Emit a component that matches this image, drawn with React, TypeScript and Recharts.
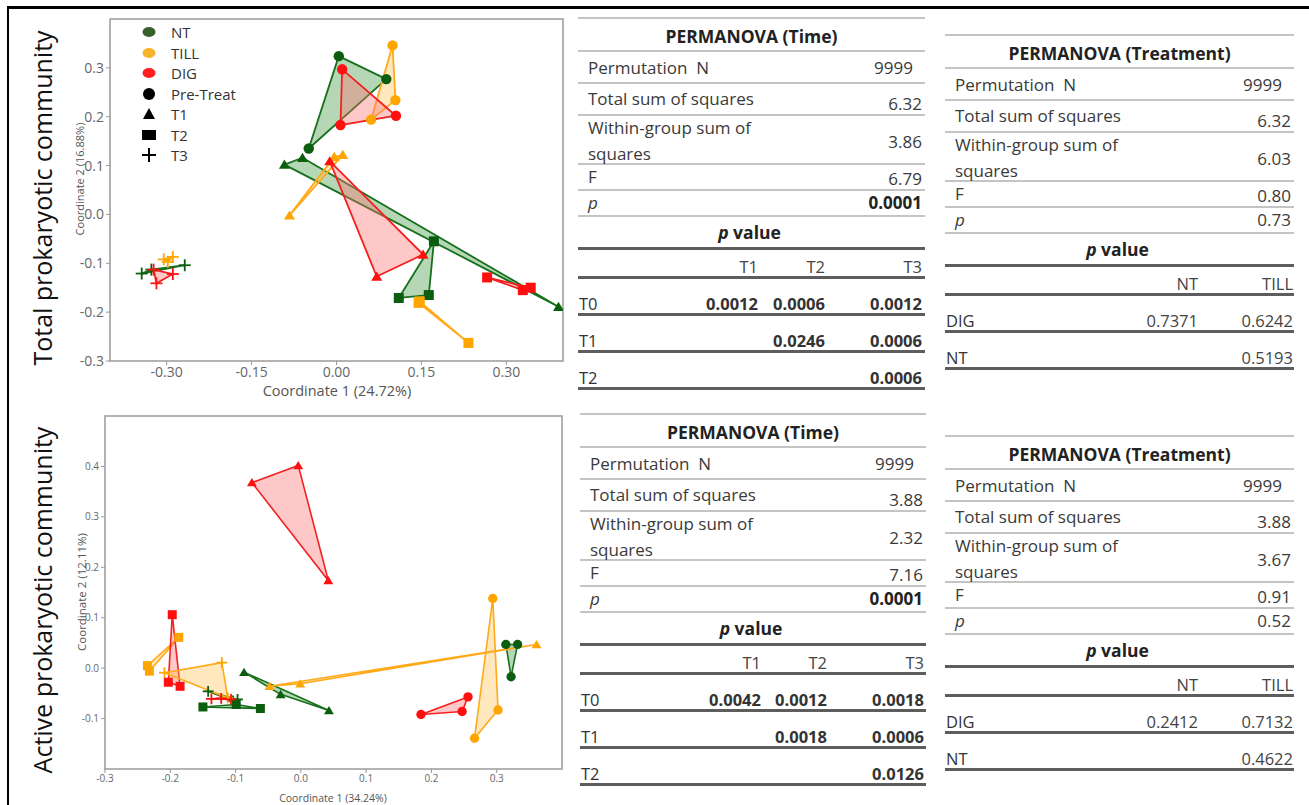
import React from 'react'
import { ScatterChart, Scatter, XAxis, YAxis, ReferenceArea } from 'recharts'

type Pt = { x: number; y: number }
type Treatment = 'NT' | 'TILL' | 'DIG'
type Time = 'pre' | 't1' | 't2' | 't3'

// PCoA scores, total prokaryotic community
const totalNtPre: Pt[] = [{ x: 0.004, y: 0.324 }, { x: 0.088, y: 0.277 }, { x: -0.049, y: 0.135 }]
const totalTillPre: Pt[] = [{ x: 0.099, y: 0.346 }, { x: 0.104, y: 0.234 }, { x: 0.061, y: 0.194 }]
const totalDigPre: Pt[] = [{ x: 0.010, y: 0.297 }, { x: 0.105, y: 0.202 }, { x: 0.007, y: 0.183 }]
const totalNtT1: Pt[] = [{ x: -0.092, y: 0.102 }, { x: -0.060, y: 0.116 }, { x: 0.392, y: -0.189 }]
const totalTillT1: Pt[] = [{ x: -0.004, y: 0.118 }, { x: 0.011, y: 0.122 }, { x: -0.083, y: -0.002 }]
const totalDigT1: Pt[] = [{ x: -0.012, y: 0.109 }, { x: 0.071, y: -0.127 }, { x: 0.153, y: -0.082 }]
const totalNtT2: Pt[] = [{ x: 0.172, y: -0.055 }, { x: 0.110, y: -0.171 }, { x: 0.163, y: -0.165 }]
const totalTillT2: Pt[] = [{ x: 0.145, y: -0.181 }, { x: 0.147, y: -0.178 }, { x: 0.233, y: -0.263 }]
const totalDigT2: Pt[] = [{ x: 0.266, y: -0.129 }, { x: 0.329, y: -0.155 }, { x: 0.343, y: -0.150 }]
const totalNtT3: Pt[] = [{ x: -0.344, y: -0.121 }, { x: -0.327, y: -0.113 }, { x: -0.268, y: -0.104 }]
const totalTillT3: Pt[] = [{ x: -0.305, y: -0.092 }, { x: -0.289, y: -0.087 }, { x: -0.298, y: -0.097 }]
const totalDigT3: Pt[] = [{ x: -0.318, y: -0.141 }, { x: -0.323, y: -0.113 }, { x: -0.289, y: -0.122 }]

// PCoA scores, active prokaryotic community
const activeNtPre: Pt[] = [{ x: 0.314, y: 0.047 }, { x: 0.332, y: 0.047 }, { x: 0.322, y: -0.017 }]
const activeTillPre: Pt[] = [{ x: 0.294, y: 0.138 }, { x: 0.302, y: -0.083 }, { x: 0.266, y: -0.139 }]
const activeDigPre: Pt[] = [{ x: 0.256, y: -0.057 }, { x: 0.247, y: -0.086 }, { x: 0.184, y: -0.092 }]
const activeNtT1: Pt[] = [{ x: -0.087, y: -0.008 }, { x: -0.031, y: -0.052 }, { x: 0.043, y: -0.084 }]
const activeTillT1: Pt[] = [{ x: 0.361, y: 0.047 }, { x: -0.001, y: -0.031 }, { x: -0.048, y: -0.036 }]
const activeDigT1: Pt[] = [{ x: -0.075, y: 0.368 }, { x: -0.004, y: 0.402 }, { x: 0.042, y: 0.174 }]
const activeNtT2: Pt[] = [{ x: -0.150, y: -0.077 }, { x: -0.099, y: -0.072 }, { x: -0.062, y: -0.080 }]
const activeTillT2: Pt[] = [{ x: -0.187, y: 0.061 }, { x: -0.235, y: 0.005 }, { x: -0.232, y: -0.006 }]
const activeDigT2: Pt[] = [{ x: -0.197, y: 0.106 }, { x: -0.203, y: -0.028 }, { x: -0.185, y: -0.036 }]
const activeNtT3: Pt[] = [{ x: -0.142, y: -0.046 }, { x: -0.104, y: -0.065 }, { x: -0.097, y: -0.062 }]
const activeTillT3: Pt[] = [{ x: -0.209, y: -0.009 }, { x: -0.121, y: 0.011 }, { x: -0.112, y: -0.059 }]
const activeDigT3: Pt[] = [{ x: -0.137, y: -0.061 }, { x: -0.122, y: -0.060 }, { x: -0.107, y: -0.062 }]

// axis ticks
const totalXTicks = [-0.3, -0.15, 0, 0.15, 0.3]
const totalYTicks = [-0.3, -0.2, -0.1, 0, 0.1, 0.2, 0.3]
const activeXTicks = [-0.3, -0.2, -0.1, 0, 0.1, 0.2, 0.3]
const activeYTicks = [-0.1, 0, 0.1, 0.2, 0.3, 0.4]

// PERMANOVA results: [permutations, total SS, within SS, F, p]
const totalTimeStats = ['9999', '6.32', '3.86', '6.79', '0.0001']
const totalTreatStats = ['9999', '6.32', '6.03', '0.80', '0.73']
const activeTimeStats = ['9999', '3.88', '2.32', '7.16', '0.0001']
const activeTreatStats = ['9999', '3.88', '3.67', '0.91', '0.52']

const timeCols = ['T1', 'T2', 'T3']
const treatCols = ['NT', 'TILL']

const totalTimePairs = [
  { label: 'T0', values: ['0.0012', '0.0006', '0.0012'] },
  { label: 'T1', values: ['', '0.0246', '0.0006'] },
  { label: 'T2', values: ['', '', '0.0006'] },
]
const totalTreatPairs = [
  { label: 'DIG', values: ['0.7371', '0.6242'] },
  { label: 'NT', values: ['', '0.5193'] },
]
const activeTimePairs = [
  { label: 'T0', values: ['0.0042', '0.0012', '0.0018'] },
  { label: 'T1', values: ['', '0.0018', '0.0006'] },
  { label: 'T2', values: ['', '', '0.0126'] },
]
const activeTreatPairs = [
  { label: 'DIG', values: ['0.2412', '0.7132'] },
  { label: 'NT', values: ['', '0.4622'] },
]

type Group = { treatment: Treatment; time: Time; points: Pt[] }

const totalGroups: Group[] = [
  { treatment: 'NT', time: 'pre', points: totalNtPre },
  { treatment: 'TILL', time: 'pre', points: totalTillPre },
  { treatment: 'DIG', time: 'pre', points: totalDigPre },
  { treatment: 'NT', time: 't1', points: totalNtT1 },
  { treatment: 'TILL', time: 't1', points: totalTillT1 },
  { treatment: 'DIG', time: 't1', points: totalDigT1 },
  { treatment: 'NT', time: 't2', points: totalNtT2 },
  { treatment: 'TILL', time: 't2', points: totalTillT2 },
  { treatment: 'DIG', time: 't2', points: totalDigT2 },
  { treatment: 'NT', time: 't3', points: totalNtT3 },
  { treatment: 'TILL', time: 't3', points: totalTillT3 },
  { treatment: 'DIG', time: 't3', points: totalDigT3 },
]

const activeGroups: Group[] = [
  { treatment: 'NT', time: 'pre', points: activeNtPre },
  { treatment: 'TILL', time: 'pre', points: activeTillPre },
  { treatment: 'DIG', time: 'pre', points: activeDigPre },
  { treatment: 'NT', time: 't1', points: activeNtT1 },
  { treatment: 'TILL', time: 't1', points: activeTillT1 },
  { treatment: 'DIG', time: 't1', points: activeDigT1 },
  { treatment: 'NT', time: 't2', points: activeNtT2 },
  { treatment: 'TILL', time: 't2', points: activeTillT2 },
  { treatment: 'DIG', time: 't2', points: activeDigT2 },
  { treatment: 'NT', time: 't3', points: activeNtT3 },
  { treatment: 'TILL', time: 't3', points: activeTillT3 },
  { treatment: 'DIG', time: 't3', points: activeDigT3 },
]

const palette: Record<Treatment, { stroke: string; marker: string; fill: string }> = {
  NT: { stroke: '#17701b', marker: '#0b5e0f', fill: '#3f973f' },
  TILL: { stroke: '#ffaa18', marker: '#ffa500', fill: '#ffc155' },
  DIG: { stroke: '#f42020', marker: '#ff1010', fill: '#ff6f6f' },
}

const legendTreatments: { label: string; color: string }[] = [
  { label: 'NT', color: '#3b5f2a' },
  { label: 'TILL', color: '#f7b32b' },
  { label: 'DIG', color: '#ff1f1f' },
]
const legendTimes: { label: string; kind: Time }[] = [
  { label: 'Pre-Treat', kind: 'pre' },
  { label: 'T1', kind: 't1' },
  { label: 'T2', kind: 't2' },
  { label: 'T3', kind: 't3' },
]

const FONT = '"Open Sans", sans-serif'

function Marker({ cx, cy, kind, color, size }: { cx?: number; cy?: number; kind: Time; color: string; size: number }) {
  if (cx == null || cy == null) return <g />
  const s = size
  if (kind === 'pre') return <circle cx={cx} cy={cy} r={s * 0.52} fill={color} />
  if (kind === 't1')
    return (
      <polygon
        points={`${cx},${cy - s * 0.5} ${cx - s * 0.55},${cy + s * 0.42} ${cx + s * 0.55},${cy + s * 0.42}`}
        fill={color}
      />
    )
  if (kind === 't2') return <rect x={cx - s / 2} y={cy - s / 2} width={s} height={s} fill={color} />
  return (
    <g stroke={color} strokeWidth={1.8}>
      <line x1={cx - s * 0.6} y1={cy} x2={cx + s * 0.6} y2={cy} />
      <line x1={cx} y1={cy - s * 0.6} x2={cx} y2={cy + s * 0.6} />
    </g>
  )
}

// closed hull through the group's points, using the pixel points the Scatter computes
const hull = (t: Treatment, width: number) => (props: any) => {
  const pts = (props.points || []).map((p: { x: number; y: number }) => `${p.x},${p.y}`).join(' ')
  return (
    <polygon
      points={pts}
      fill={palette[t].fill}
      fillOpacity={0.38}
      stroke={palette[t].stroke}
      strokeWidth={width}
      strokeLinejoin="round"
    />
  )
}

type ChartProps = {
  groups: Group[]
  width: number
  height: number
  margin: { top: number; right: number; bottom: number; left: number }
  xDomain: [number, number]
  yDomain: [number, number]
  xTicks: number[]
  yTicks: number[]
  xDecimals: number
  xAxisHeight: number
  tickFont: number
  markerSize: number
  lineWidth: number
}

function OrdinationChart(p: ChartProps) {
  const tick = { fontSize: p.tickFont, fill: '#666', fontFamily: FONT }
  return (
    <ScatterChart width={p.width} height={p.height} margin={p.margin}>
      <XAxis
        type="number"
        dataKey="x"
        domain={p.xDomain}
        ticks={p.xTicks}
        allowDataOverflow
        tickFormatter={(v: number) => v.toFixed(p.xDecimals)}
        height={p.xAxisHeight}
        tick={tick}
        tickSize={4}
        axisLine={false}
        tickLine={{ stroke: '#999' }}
      />
      <YAxis
        type="number"
        dataKey="y"
        domain={p.yDomain}
        ticks={p.yTicks}
        allowDataOverflow
        tickFormatter={(v: number) => v.toFixed(1)}
        width={40}
        tick={tick}
        tickSize={4}
        axisLine={false}
        tickLine={{ stroke: '#999' }}
      />
      <ReferenceArea
        x1={p.xDomain[0]}
        x2={p.xDomain[1]}
        y1={p.yDomain[0]}
        y2={p.yDomain[1]}
        fill="none"
        stroke="#9a9a9a"
        strokeWidth={1.5}
        fillOpacity={0}
      />
      {p.groups.map((g, i) => (
        <Scatter
          key={`hull-${i}`}
          data={g.points}
          line={hull(g.treatment, p.lineWidth)}
          shape={() => <g />}
          isAnimationActive={false}
        />
      ))}
      {p.groups.map((g, i) => (
        <Scatter
          key={`pts-${i}`}
          data={g.points}
          shape={(sp: any) => (
            <Marker cx={sp.cx} cy={sp.cy} kind={g.time} color={palette[g.treatment].marker} size={p.markerSize} />
          )}
          isAnimationActive={false}
        />
      ))}
    </ScatterChart>
  )
}

function Rotated({ text, cx, cy, size, color, weight }: { text: string; cx: number; cy: number; size: number; color: string; weight?: number }) {
  return (
    <div
      style={{
        position: 'absolute',
        left: cx,
        top: cy,
        transform: 'translate(-50%, -50%) rotate(-90deg)',
        whiteSpace: 'nowrap',
        fontSize: size,
        color,
        fontWeight: weight ?? 400,
        lineHeight: 1,
      }}
    >
      {text}
    </div>
  )
}

function Centered({ text, cx, cy, size, color }: { text: string; cx: number; cy: number; size: number; color: string }) {
  return (
    <div
      style={{
        position: 'absolute',
        left: cx,
        top: cy,
        transform: 'translate(-50%, -50%)',
        whiteSpace: 'nowrap',
        fontSize: size,
        color,
        lineHeight: 1,
      }}
    >
      {text}
    </div>
  )
}

function LegendIcon({ kind }: { kind: Time }) {
  return (
    <svg width={18} height={16} style={{ display: 'block' }}>
      {kind === 'pre' && <circle cx={9} cy={8} r={6} fill="#000" />}
      {kind === 't1' && <polygon points="9,2 3,13 15,13" fill="#000" />}
      {kind === 't2' && <rect x={2} y={3} width={14} height={10} fill="#000" />}
      {kind === 't3' && (
        <g stroke="#000" strokeWidth={2}>
          <line x1={2} y1={8} x2={16} y2={8} />
          <line x1={9} y1={1} x2={9} y2={15} />
        </g>
      )}
    </svg>
  )
}

function PlotLegend({ left, top }: { left: number; top: number }) {
  const rowH = 20.5
  const items = [
    ...legendTreatments.map((t) => ({
      label: t.label,
      icon: (
        <svg width={18} height={16} style={{ display: 'block' }}>
          <ellipse cx={9} cy={8} rx={6.5} ry={5} fill={t.color} />
        </svg>
      ),
    })),
    ...legendTimes.map((t) => ({ label: t.label, icon: <LegendIcon kind={t.kind} /> })),
  ]
  return (
    <div style={{ position: 'absolute', left, top }}>
      {items.map((it, i) => (
        <div
          key={it.label}
          style={{ position: 'absolute', left: 0, top: i * rowH - 8, height: 16, display: 'flex', alignItems: 'center', whiteSpace: 'nowrap' }}
        >
          {it.icon}
          <span style={{ marginLeft: 13, fontSize: 15, color: '#333', lineHeight: '16px' }}>{it.label}</span>
        </div>
      ))}
    </div>
  )
}

function Txt({ x, y, align = 'left', style, children }: { x: number; y: number; align?: 'left' | 'right' | 'center'; style?: React.CSSProperties; children: React.ReactNode }) {
  const base: React.CSSProperties = { position: 'absolute', top: y - 12, height: 24, lineHeight: '24px', whiteSpace: 'nowrap', ...style }
  if (align === 'left') return <div style={{ ...base, left: x }}>{children}</div>
  if (align === 'right') return <div style={{ ...base, left: x - 300, width: 300, textAlign: 'right' }}>{children}</div>
  return <div style={{ ...base, left: x - 200, width: 400, textAlign: 'center' }}>{children}</div>
}

type TableProps = {
  left: number
  top: number
  width: number
  title: string
  stats: string[]
  pBold: boolean
  pairBold: boolean
  cols: string[]
  colRight: number[]
  pairs: { label: string; values: string[] }[]
}

function PermanovaTable({ left, top, width, title, stats, pBold, pairBold, cols, colRight, pairs }: TableProps) {
  const heights = [33, 32, 32, 49, 26, 26, 32, 29]
  const ys = [top]
  heights.forEach((h) => ys.push(ys[ys.length - 1] + h))
  pairs.forEach(() => ys.push(ys[ys.length - 1] + 37))
  const right = left + width
  const label: React.CSSProperties = { fontSize: 17, color: '#3a3a3a' }
  const value: React.CSSProperties = { fontSize: 17, color: '#3a3a3a' }
  const pairStyle: React.CSSProperties = pairBold
    ? { fontSize: 16.5, color: '#333', fontWeight: 700 }
    : { fontSize: 16.5, color: '#444' }
  return (
    <>
      {ys.map((y, i) => (
        <div
          key={i}
          style={{
            position: 'absolute',
            left,
            top: y - (i >= 7 ? 1.5 : 1),
            width,
            height: 0,
            borderTop: i >= 7 ? '3px solid #5d5d5d' : '2px solid #c4c4c4',
          }}
        />
      ))}
      <Txt x={left + width / 2} y={ys[0] + 17.5} align="center" style={{ fontSize: 17.5, fontWeight: 700, color: '#222' }}>
        {title}
      </Txt>
      <Txt x={left + 10} y={ys[1] + 16.5} style={label}>Permutation&nbsp;&nbsp;N</Txt>
      <Txt x={right - 12} y={ys[1] + 16.5} align="right" style={value}>{stats[0]}</Txt>
      <Txt x={left + 10} y={ys[2] + 15.5} style={label}>Total sum of squares</Txt>
      <Txt x={right - 3} y={ys[2] + 21} align="right" style={value}>{stats[1]}</Txt>
      <Txt x={left + 10} y={ys[3] + 12.5} style={label}>Within-group sum of</Txt>
      <Txt x={left + 10} y={ys[3] + 38.5} style={label}>squares</Txt>
      <Txt x={right - 3} y={ys[3] + 27} align="right" style={value}>{stats[2]}</Txt>
      <Txt x={left + 10} y={ys[4] + 12.5} style={label}>F</Txt>
      <Txt x={right - 3} y={ys[4] + 15} align="right" style={value}>{stats[3]}</Txt>
      <Txt x={left + 10} y={ys[5] + 13} style={{ ...label, fontStyle: 'italic' }}>p</Txt>
      <Txt x={right - 3} y={ys[5] + 13} align="right" style={pBold ? { ...value, fontWeight: 700, color: '#222' } : value}>
        {stats[4]}
      </Txt>
      <Txt x={left + width / 2 - 2} y={ys[6] + 16} align="center" style={{ fontSize: 17.5, fontWeight: 700, color: '#222' }}>
        <i>p</i> value
      </Txt>
      {cols.map((c, j) => (
        <Txt key={c} x={left + colRight[j]} y={ys[7] + 19} align="right" style={{ fontSize: 16.5, color: '#444' }}>
          {c}
        </Txt>
      ))}
      {pairs.map((r, k) => (
        <React.Fragment key={r.label}>
          <Txt x={left + 1} y={ys[8 + k] + 26.5} style={{ fontSize: 16.5, color: '#333' }}>
            {r.label}
          </Txt>
          {r.values.map((v, j) =>
            v ? (
              <Txt key={j} x={left + colRight[j]} y={ys[8 + k] + 26.5} align="right" style={pairStyle}>
                {v}
              </Txt>
            ) : null
          )}
        </React.Fragment>
      ))}
    </>
  )
}

export default function App() {
  return (
    <div
      style={{
        position: 'absolute',
        left: 0,
        top: 0,
        width: 1309,
        height: 805,
        background: '#fff',
        overflow: 'hidden',
        fontFamily: FONT,
        color: '#333',
      }}
    >
      <div style={{ position: 'absolute', left: 7, top: 6, width: 1320, height: 820, borderLeft: '2.5px solid #000', borderTop: '3px solid #000' }} />

      <Rotated text="Total prokaryotic community" cx={42} cy={198} size={25} color="#111" />
      <Rotated text="Active prokaryotic community" cx={42} cy={600} size={25} color="#111" />

      <div style={{ position: 'absolute', left: 0, top: 0 }}>
        <OrdinationChart
          groups={totalGroups}
          width={580}
          height={400}
          margin={{ top: 19, right: 17, bottom: 9, left: 70 }}
          xDomain={[-0.4, 0.4]}
          yDomain={[-0.3, 0.4]}
          xTicks={totalXTicks}
          yTicks={totalYTicks}
          xDecimals={2}
          xAxisHeight={30}
          tickFont={14}
          markerSize={10}
          lineWidth={1.8}
        />
      </div>
      <PlotLegend left={140} top={32} />
      <Centered text="Coordinate 1 (24.72%)" cx={337} cy={391} size={14.5} color="#555" />
      <Rotated text="Coordinate 2 (16.88%)" cx={79} cy={179} size={11} color="#555" />

      <div style={{ position: 'absolute', left: 0, top: 400 }}>
        <OrdinationChart
          groups={activeGroups}
          width={580}
          height={405}
          margin={{ top: 16, right: 18, bottom: 11, left: 65 }}
          xDomain={[-0.3, 0.4]}
          yDomain={[-0.2, 0.5]}
          xTicks={activeXTicks}
          yTicks={activeYTicks}
          xDecimals={1}
          xAxisHeight={25}
          tickFont={10}
          markerSize={9}
          lineWidth={1.6}
        />
      </div>
      <Centered text="Coordinate 1 (34.24%)" cx={333} cy={798} size={10.5} color="#555" />
      <Rotated text="Coordinate 2 (12.11%)" cx={82} cy={592} size={11.5} color="#555" />

      <PermanovaTable
        left={578}
        top={18}
        width={347}
        title="PERMANOVA (Time)"
        stats={totalTimeStats}
        pBold
        pairBold
        cols={timeCols}
        colRight={[180, 247, 344]}
        pairs={totalTimePairs}
      />
      <PermanovaTable
        left={945}
        top={35}
        width={349}
        title="PERMANOVA (Treatment)"
        stats={totalTreatStats}
        pBold={false}
        pairBold={false}
        cols={treatCols}
        colRight={[253, 348]}
        pairs={totalTreatPairs}
      />
      <PermanovaTable
        left={580}
        top={414}
        width={346}
        title="PERMANOVA (Time)"
        stats={activeTimeStats}
        pBold
        pairBold
        cols={timeCols}
        colRight={[181, 247, 344]}
        pairs={activeTimePairs}
      />
      <PermanovaTable
        left={945}
        top={436}
        width={349}
        title="PERMANOVA (Treatment)"
        stats={activeTreatStats}
        pBold={false}
        pairBold={false}
        cols={treatCols}
        colRight={[253, 348]}
        pairs={activeTreatPairs}
      />
    </div>
  )
}
